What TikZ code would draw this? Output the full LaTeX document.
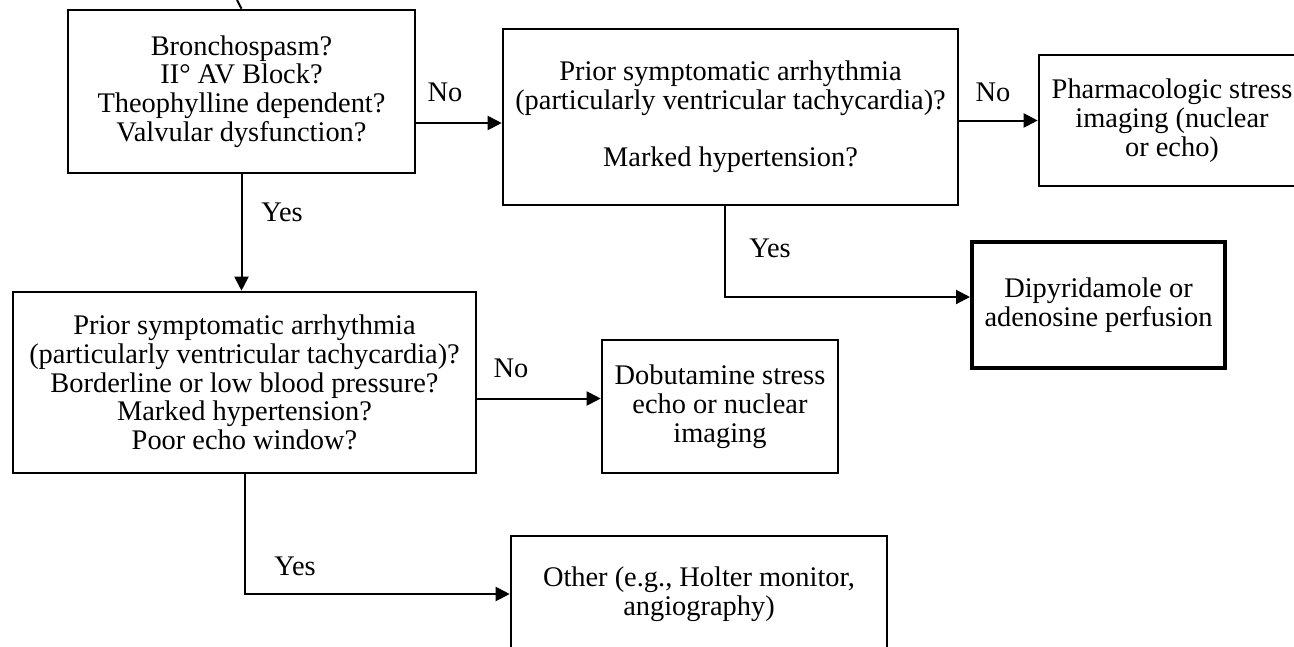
\documentclass[tikz,border=0pt]{standalone}
\usepackage{fontspec}
\setmainfont{Liberation Serif}
\usepackage{tikz}
\usetikzlibrary{positioning,calc,arrows.meta}
\tikzstyle{box}=[draw, line width=1.3pt, align=center, inner sep=2pt, font=\fontsize{14.2}{14.4}\selectfont]
\tikzstyle{lbl}=[inner sep=1pt, font=\fontsize{14.2}{14.4}\selectfont]
\tikzstyle{arr}=[line width=1pt, -{Triangle[length=7pt,width=7pt]}]

\begin{document}
\begin{tikzpicture}[x=0.5pt, y=-0.5pt]
				\useasboundingbox (0,0) rectangle (1294,647);
				\node[box, minimum width=173.5pt, minimum height=81.5pt] (b1) at (241.5, 91.5) {Bronchospasm?\\II\textdegree{} AV Block?\\Theophylline dependent?\\Valvular dysfunction?};
				\node[box, minimum width=227.5pt, minimum height=88pt] (b2) at (730.5, 117) {Prior symptomatic arrhythmia\\(particularly ventricular tachycardia)?\\[14pt]Marked hypertension?};
				\node[box, minimum width=133pt, minimum height=65.5pt] (b3) at (1172, 120.5) {Pharmacologic stress\\imaging (nuclear\\or echo)};
				\node[box, line width=2pt, minimum width=126.5pt, minimum height=63pt] (b4) at (1098.5, 305) {Dipyridamole or\\adenosine perfusion};
				\node[box, minimum width=231.5pt, minimum height=90.5pt] (b5) at (244.5, 382.5) {Prior symptomatic arrhythmia\\(particularly ventricular tachycardia)?\\Borderline or low blood pressure?\\Marked hypertension?\\Poor echo window?};
				\node[box, minimum width=118pt, minimum height=66.5pt] (b6) at (720, 406.5) {Dobutamine stress\\echo or nuclear\\imaging};
				\node[box, minimum width=188pt, minimum height=58pt] (b7) at (699, 594) {Other (e.g., Holter monitor,\\angiography)};
				% branch labels
				\node[lbl] (no1) at (445, 92) {No};
				\node[lbl] (no2) at (993, 92) {No};
				\node[lbl] (yes1) at (282, 212) {Yes};
				\node[lbl] (yes2) at (770, 248) {Yes};
				\node[lbl] (no3) at (511, 368) {No};
				\node[lbl] (yes3) at (295, 566) {Yes};
				\coordinate (in) at (237, 0);
				\coordinate (n1) at ([yshift=-3pt]b2.west);
				\coordinate (d1) at ([xshift=-3pt]b2.south);
				\coordinate (y1) at ([yshift=4pt]b4.west);
				\coordinate (n3) at ([yshift=4pt]b6.west);
				\draw[line width=1pt] (in) -- (b1.north);
				\draw[arr] (n1 -| b1.east) -- (n1);
				\draw[arr] (b3.west -| b2.east) -- (b3.west);
				\draw[arr] (d1) |- (y1);
				\draw[arr] (b1.south) -- (b1.south |- b5.north);
				\draw[arr] (n3 -| b5.east) -- (n3);
				\draw[arr] (b5.south) |- (b7.west);
			\end{tikzpicture}
\end{document}
